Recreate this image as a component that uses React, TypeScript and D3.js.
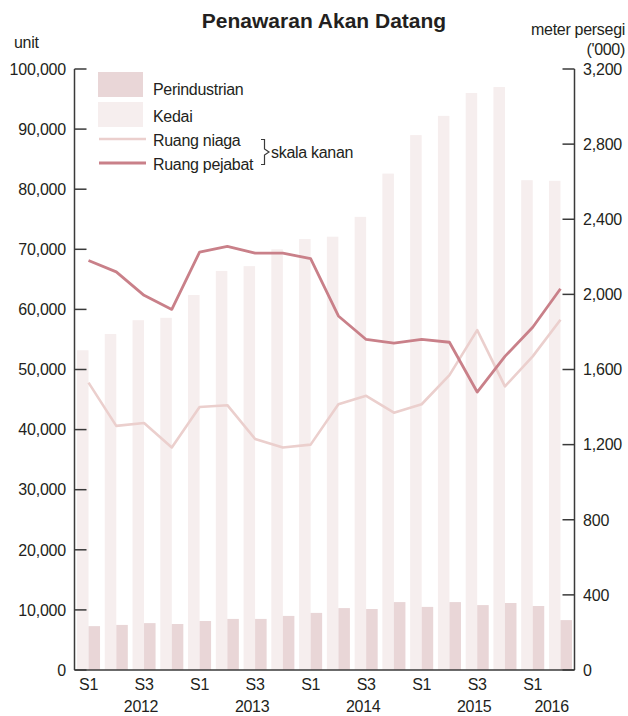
import React from 'react';
import * as d3 from 'd3';

// quarters S1..S4 from 2012 to 2016 S2
const periods = [
  '2012 S1', '2012 S2', '2012 S3', '2012 S4',
  '2013 S1', '2013 S2', '2013 S3', '2013 S4',
  '2014 S1', '2014 S2', '2014 S3', '2014 S4',
  '2015 S1', '2015 S2', '2015 S3', '2015 S4',
  '2016 S1', '2016 S2',
];

// left scale, unit
const kedai = [53200, 55900, 58200, 58600, 62400, 66400, 67200, 70000, 71700, 72100, 75400, 82600, 89000, 92200, 96000, 97000, 81500, 81400];
const perindustrian = [7300, 7500, 7800, 7650, 8150, 8500, 8500, 9000, 9500, 10300, 10150, 11300, 10500, 11300, 10800, 11150, 10650, 8300];

// right scale, meter persegi ('000)
const ruangNiaga = [1530, 1300, 1315, 1185, 1400, 1410, 1230, 1185, 1200, 1415, 1460, 1370, 1415, 1570, 1810, 1510, 1670, 1865];
const ruangPejabat = [2180, 2120, 1995, 1920, 2225, 2255, 2220, 2220, 2190, 1885, 1760, 1740, 1760, 1745, 1480, 1670, 1825, 2030];

const leftTicks = [0, 10000, 20000, 30000, 40000, 50000, 60000, 70000, 80000, 90000, 100000];
const rightTicks = [0, 400, 800, 1200, 1600, 2000, 2400, 2800, 3200];
const years = ['2012', '2013', '2014', '2015', '2016'];

const colors = {
  kedai: '#f6eeee',
  perindustrian: '#e9d6d7',
  niaga: '#ebcfcd',
  pejabat: '#c98089',
  axis: '#3a3a3a',
  text: '#231f20',
};

const font = "'Liberation Sans', Arial, sans-serif";

const App = () => {
  const width = 628;
  const height = 716;
  const left = 74.5;
  const right = 574.5;
  const top = 69;
  const bottom = 670;

  const x = d3.scaleBand<string>().domain(periods).range([left, right]).paddingInner(0.17).paddingOuter(0.09);
  const sub = d3.scaleBand<string>().domain(['kedai', 'perindustrian']).range([0, x.bandwidth()]);
  const yL = d3.scaleLinear().domain([0, 100000]).range([bottom, top]);
  const yR = d3.scaleLinear().domain([0, 3200]).range([bottom, top]);
  const cx = (p: string) => (x(p) ?? 0) + x.bandwidth() / 2;

  const line = (vals: number[]) =>
    d3.line<number>().x((_, i) => cx(periods[i])).y(d => yR(d))(vals) ?? '';

  const fmt = d3.format(',');

  // year labels sit a bit left of S3, 2016 between S1 and S2
  const yearX = (yr: string) => {
    if (yr === '2016') return (cx('2016 S1') + cx('2016 S2')) / 2 + 5;
    return cx(yr + ' S3') - 3;
  };

  return (
    <svg width={width} height={height} style={{ position: 'absolute', left: 0, top: 0, background: '#fff' }}
      fontFamily={font} fill={colors.text}>
      <text x={324} y={28} textAnchor="middle" fontSize={21} fontWeight="bold">Penawaran Akan Datang</text>
      <text x={14} y={48} fontSize={16} letterSpacing={-0.3}>unit</text>
      <text x={625} y={35} fontSize={16} textAnchor="end" letterSpacing={-0.3}>meter persegi</text>
      <text x={625} y={55} fontSize={16} textAnchor="end" letterSpacing={-0.3}>('000)</text>

      {/* bars */}
      {periods.map((p, i) => (
        <g key={p} transform={`translate(${x(p)},0)`}>
          <rect x={sub('kedai')} y={yL(kedai[i])} width={sub.bandwidth()} height={bottom - yL(kedai[i])} fill={colors.kedai} />
          <rect x={sub('perindustrian')} y={yL(perindustrian[i])} width={sub.bandwidth()} height={bottom - yL(perindustrian[i])} fill={colors.perindustrian} />
        </g>
      ))}

      {/* lines */}
      <path d={line(ruangNiaga)} fill="none" stroke={colors.niaga} strokeWidth={2.6} strokeLinejoin="round" />
      <path d={line(ruangPejabat)} fill="none" stroke={colors.pejabat} strokeWidth={2.8} strokeLinejoin="round" />

      {/* axes */}
      <g stroke={colors.axis} strokeWidth={1.5}>
        <line x1={left} x2={left} y1={top} y2={bottom} />
        <line x1={right} x2={right} y1={top} y2={bottom} />
        <line x1={left} x2={right} y1={bottom} y2={bottom} />
        {leftTicks.map(t => <line key={t} x1={left} x2={left + 12} y1={yL(t)} y2={yL(t)} />)}
        {rightTicks.map(t => <line key={t} x1={right - 12} x2={right} y1={yR(t)} y2={yR(t)} />)}
      </g>
      {leftTicks.map(t => (
        <text key={t} x={66} y={yL(t)} dy="0.36em" textAnchor="end" fontSize={16} letterSpacing={-0.2}>{fmt(t)}</text>
      ))}
      {rightTicks.map(t => (
        <text key={t} x={583} y={yR(t)} dy="0.36em" fontSize={16} letterSpacing={-0.2}>{fmt(t)}</text>
      ))}
      {periods.filter((_, i) => i % 2 === 0).map(p => (
        <text key={p} x={cx(p)} y={690} textAnchor="middle" fontSize={16} letterSpacing={-0.3}>{p.split(' ')[1]}</text>
      ))}
      {years.map(yr => (
        <text key={yr} x={yearX(yr)} y={712} textAnchor="middle" fontSize={16} letterSpacing={-0.3}>{yr}</text>
      ))}

      {/* legend */}
      <g fontSize={16} letterSpacing={-0.3}>
        <rect x={98} y={72} width={45} height={25} fill={colors.perindustrian} />
        <text x={153} y={95}>Perindustrian</text>
        <rect x={98} y={102} width={45} height={25} fill={colors.kedai} />
        <text x={153} y={122}>Kedai</text>
        <line x1={99} x2={146} y1={139} y2={139} stroke={colors.niaga} strokeWidth={2.6} />
        <text x={153} y={146}>Ruang niaga</text>
        <line x1={99} x2={146} y1={163} y2={163} stroke={colors.pejabat} strokeWidth={2.8} />
        <text x={153} y={170}>Ruang pejabat</text>
        <path d="M261,139.5 H264.5 V149 L269,152 L264.5,155 V164.5 H261" fill="none" stroke={colors.axis} strokeWidth={1.2} />
        <text x={271} y={158}>skala kanan</text>
      </g>
    </svg>
  );
};

export default App;
